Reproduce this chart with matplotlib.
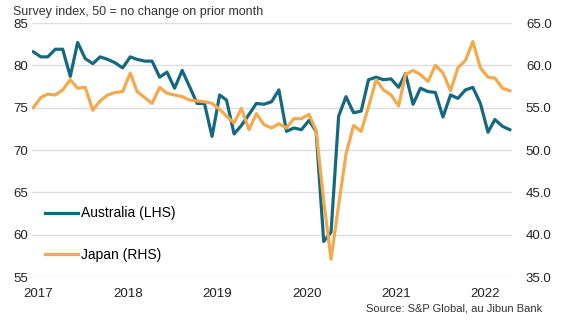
import pandas as pd
import matplotlib.pyplot as plt
import matplotlib.dates as mdates

plt.rcParams['font.family'] = ['Liberation Sans', 'DejaVu Sans']

months = pd.date_range('2017-01-01', '2022-05-01', freq='MS')

australia = [81.6, 81.0, 81.0, 81.9, 81.9, 78.7, 82.7, 80.8, 80.2, 81.0,
             80.7, 80.3, 79.7, 81.0, 80.7, 80.5, 80.5, 78.6, 79.2, 77.3,
             79.4, 77.5, 75.5, 75.5, 71.6, 76.5, 75.9, 71.9, 72.9, 74.2,
             75.5, 75.4, 75.7, 77.1, 72.2, 72.6, 72.4, 73.5, 72.2, 59.2,
             60.3, 74.0, 76.3, 74.4, 74.6, 78.3, 78.6, 78.3, 78.4, 77.4,
             79.0, 75.4, 77.3, 76.9, 76.8, 73.9, 76.5, 76.1, 77.1, 77.4,
             75.5, 72.1, 73.6, 72.8, 72.4]

japan = [55.0, 56.2, 56.6, 56.5, 57.1, 58.3, 57.3, 57.4, 54.7, 55.8,
         56.5, 56.8, 56.9, 59.1, 56.9, 56.2, 55.5, 57.4, 56.7, 56.5,
         56.3, 55.9, 55.8, 55.7, 55.5, 54.8, 54.0, 53.2, 54.9, 52.4,
         54.3, 53.0, 52.6, 53.1, 52.6, 53.7, 53.7, 54.2, 52.3, 44.0,
         37.1, 43.5, 49.5, 52.9, 52.2, 55.1, 58.3, 57.1, 56.5, 55.2,
         58.9, 59.4, 58.9, 58.1, 60.0, 59.1, 57.0, 59.7, 60.6, 62.8,
         59.7, 58.6, 58.5, 57.3, 57.0]

years = [2017, 2018, 2019, 2020, 2021, 2022]
left_ticks = [55, 60, 65, 70, 75, 80, 85]
right_ticks = [35, 40, 45, 50, 55, 60, 65]

teal = '#15697F'
orange = '#F3A94E'

fig = plt.figure(figsize=(5.67, 3.24), dpi=100)
ax = fig.add_axes([0.057, 0.145, 0.846, 0.784])
ax2 = ax.twinx()

l1, = ax.plot(months, australia, color=teal, lw=2.3, label='Australia (LHS)')
l2, = ax2.plot(months, japan, color=orange, lw=2.3, label='Japan (RHS)')

ax.set_ylim(55, 85)
ax2.set_ylim(35, 65)
ax.set_yticks(left_ticks)
ax2.set_yticks(right_ticks)
ax2.set_yticklabels([f'{t:.1f}' for t in right_ticks])
ax.set_xlim(pd.Timestamp('2016-12-28'), pd.Timestamp('2022-05-10'))
ax.set_xticks([pd.Timestamp(f'{y}-01-22') for y in years])
ax.xaxis.set_major_formatter(mdates.DateFormatter('%Y'))

ax.grid(axis='y', color='#DDDDDD', lw=1)
ax.set_axisbelow(True)
for a in (ax, ax2):
    for s in a.spines.values():
        s.set_visible(False)
    a.tick_params(length=0, labelsize=9.5, colors='#222222')
ax.tick_params(axis='y', pad=3)
ax.tick_params(axis='x', pad=8)
ax2.tick_params(axis='y', pad=10)

fig.text(0.023, 0.962, 'Survey index, 50 = no change on prior month',
         fontsize=9, color='#333333', va='center')
fig.text(0.957, 0.047, 'Source: S&P Global, au Jibun Bank',
         fontsize=8, color='#333333', ha='right', va='center')

ax2.legend(handles=[l1, l2], loc='upper left', bbox_to_anchor=(0.015, 0.30),
           frameon=False, fontsize=10, handlelength=2.4, handletextpad=0.2,
           labelspacing=2.0, borderaxespad=0)

fig.savefig('out.png', dpi=100)
